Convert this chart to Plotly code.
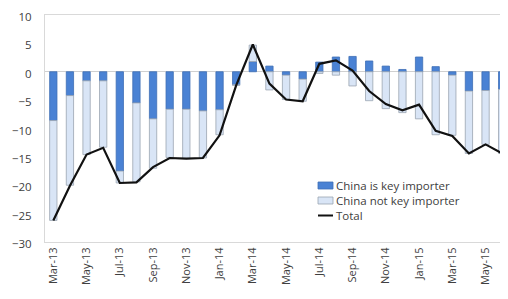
import plotly.graph_objects as go

months = ["Mar-13", "Apr-13", "May-13", "Jun-13", "Jul-13", "Aug-13", "Sep-13", "Oct-13",
          "Nov-13", "Dec-13", "Jan-14", "Feb-14", "Mar-14", "Apr-14", "May-14", "Jun-14",
          "Jul-14", "Aug-14", "Sep-14", "Oct-14", "Nov-14", "Dec-14", "Jan-15", "Feb-15",
          "Mar-15", "Apr-15", "May-15", "Jun-15"]

china_key = [-8.6, -4.2, -1.6, -1.6, -17.5, -5.5, -8.3, -6.6, -6.6, -6.9, -6.7, -2.3,
             1.8, 1.0, -0.6, -1.3, 1.7, 2.6, 2.7, 1.9, 1.0, 0.4, 2.6, 0.9,
             -0.6, -3.4, -3.3, -3.1]

china_not_key = [-17.6, -15.8, -13.0, -11.7, -2.1, -13.9, -8.7, -8.5, -8.7, -8.3, -4.4, -0.1,
                 2.9, -3.2, -4.3, -3.9, -0.3, -0.6, -2.5, -5.1, -6.5, -7.2, -8.3, -11.1,
                 -10.6, -11.0, -9.5, -11.3]

total = [-26.2, -20.1, -14.6, -13.4, -19.6, -19.5, -16.8, -15.2, -15.3, -15.2, -11.2, -2.4,
         4.8, -2.1, -4.9, -5.2, 1.4, 2.0, 0.2, -3.4, -5.7, -6.8, -5.8, -10.4,
         -11.3, -14.4, -12.8, -14.4]

series_names = ["China is key importer", "China not key importer", "Total"]
tick_labels = months[::2]
y_ticks = [10, 5, 0, -5, -10, -15, -20, -25, -30]

font_family = "Open Sans, Liberation Sans, sans-serif"
dark_fill, dark_edge = "#4a82d4", "#3f6fb5"
light_fill, light_edge = "#d9e5f6", "#9ba4b1"

# the page has an 8px body margin, so the figure starts at page (8, 8)
OFF = 8
W, H = 500, 291
ML, MR, MT, MB = 37, 0, 7, 57
PW, PH = W - ML - MR, H - MT - MB


def px(x):  # page pixel x -> paper
    return (x - OFF - ML) / PW


def py(y):  # page pixel y -> paper
    return (H - MB - (y - OFF)) / PH


fig = go.Figure()
fig.add_trace(go.Bar(
    x=months, y=china_key, name=series_names[0],
    marker=dict(color=dark_fill, line=dict(color=dark_edge, width=0.8)),
    width=0.44, showlegend=False,
))
fig.add_trace(go.Bar(
    x=months, y=china_not_key, name=series_names[1],
    marker=dict(color=light_fill, line=dict(color=light_edge, width=0.8)),
    width=0.44, showlegend=False,
))
fig.add_trace(go.Scatter(
    x=months, y=total, name=series_names[2], mode="lines",
    line=dict(color="#111111", width=2.2), showlegend=False,
))

# manual legend (inside plot, lower right)
rows = [185.5, 200.5, 215.5]
shapes = [
    dict(type="rect", xref="paper", yref="paper", x0=px(318), x1=px(333),
         y0=py(rows[0] + 3.5), y1=py(rows[0] - 3.5),
         fillcolor=dark_fill, line=dict(color=dark_edge, width=0.8)),
    dict(type="rect", xref="paper", yref="paper", x0=px(318), x1=px(333),
         y0=py(rows[1] + 3.5), y1=py(rows[1] - 3.5),
         fillcolor=light_fill, line=dict(color=light_edge, width=0.8)),
    dict(type="line", xref="paper", yref="paper", x0=px(318), x1=px(333),
         y0=py(rows[2]), y1=py(rows[2]),
         line=dict(color="#111111", width=2)),
]
annotations = [
    dict(xref="paper", yref="paper", x=px(334), y=py(rows[1]),
         text="<br>".join(series_names), showarrow=False, align="left",
         xanchor="left", yanchor="middle", font=dict(size=11.5, color="#404040")),
]

fig.update_layout(
    width=W, height=H,
    margin=dict(l=ML, r=MR, t=MT, b=MB),
    barmode="relative",
    plot_bgcolor="white", paper_bgcolor="white",
    font=dict(family=font_family, size=11, color="#404040"),
    showlegend=False,
    shapes=shapes, annotations=annotations,
)
fig.update_xaxes(
    type="category", categoryorder="array", categoryarray=months,
    range=[-0.5, 27.35], automargin=False,
    tickmode="array", tickvals=tick_labels, ticktext=tick_labels,
    tickangle=-90, tickfont=dict(size=11, color="#404040"),
    showgrid=False, showline=True, linecolor="#d9d9d9", linewidth=1, mirror=True,
    ticks="", zeroline=False,
)
fig.update_yaxes(
    range=[-30, 10], tickmode="array", tickvals=y_ticks, automargin=False,
    tickfont=dict(size=11.5, color="#404040"), ticklabeloverflow="allow",
    ticklabelshift=2,
    showgrid=False, zeroline=True, zerolinecolor="#d0d0d0", zerolinewidth=1,
    showline=True, linecolor="#d9d9d9", linewidth=1, mirror=True,
    ticks="", ticklabelstandoff=10,
)

fig.write_html("out.html")
